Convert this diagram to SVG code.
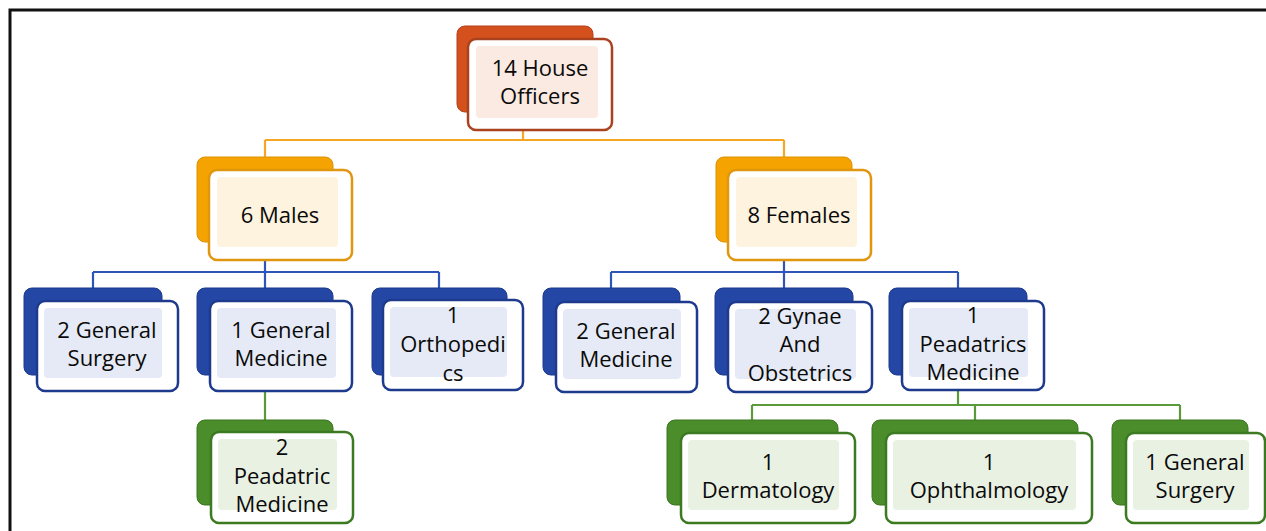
<svg xmlns="http://www.w3.org/2000/svg" width="1266" height="531" viewBox="0 0 1266 531">
<style>
.t{font-family:"Open Sans","Liberation Sans",sans-serif;font-size:22px;font-weight:500;fill:#0a0a0a;text-anchor:middle}
.front{fill:#ffffff;stroke-width:2.5}
.cn{fill:none;stroke-width:2.2}
.back{stroke-width:1}
.r .back{fill:#d4501c;stroke:#b4401a}.r .front{stroke:#a9421f}.r .in{fill:#fbeae2}
.o .back{fill:#f5a300;stroke:#dc9200}.o .front{stroke:#e0960e}.o .in{fill:#fdf3de}
.b .back{fill:#2447a6;stroke:#1c388a}.b .front{stroke:#1d3a8c}.b .in{fill:#e5eaf6}
.g .back{fill:#4b8c2b;stroke:#3b7520}.g .front{stroke:#3c7a22}.g .in{fill:#e9f1e3}
</style>
<rect x="10" y="10" width="1300" height="600" fill="none" stroke="#111" stroke-width="3"/>
<g id="connectors">
<path class="cn" stroke="#f5a623" d="M523 130V140M265 140H784M265 140V157M784 140V157"/>
<path class="cn" stroke="#2e55b8" d="M265 260V272M93 272H439M93 272V288M265 272V288M439 272V288M784 260V272M611 272H958M611 272V288M784 272V288M958 272V288"/>
<path class="cn" stroke="#5a9a3a" d="M265 391V420M958 390V405M752 405H1180M752 405V420M975 405V420M1180 405V420"/>
</g>
<g id="n-house" class="r">
<rect class="back" x="457" y="26" width="136" height="86" rx="8"/>
<rect class="front" x="468" y="39" width="144" height="91" rx="8"/>
<rect class="in" x="476" y="46" width="122" height="72" rx="4"/>
<text class="t" x="540" y="76">14 House</text><text class="t" x="540" y="104">Officers</text>
</g>
<g id="n-males" class="o">
<rect class="back" x="197" y="157" width="136" height="85" rx="8"/>
<rect class="front" x="209" y="170" width="143" height="90" rx="8"/>
<rect class="in" x="217" y="177" width="121" height="70" rx="4"/>
<text class="t" x="280" y="223">6 Males</text>
</g>
<g id="n-females" class="o">
<rect class="back" x="716" y="157" width="136" height="85" rx="8"/>
<rect class="front" x="728" y="170" width="143" height="90" rx="8"/>
<rect class="in" x="736" y="177" width="121" height="70" rx="4"/>
<text class="t" x="799" y="223">8 Females</text>
</g>
<g id="n-gsurg" class="b">
<rect class="back" x="24" y="288" width="138" height="87" rx="8"/>
<rect class="front" x="37" y="301" width="141" height="90" rx="8"/>
<rect class="in" x="44" y="308" width="118" height="70" rx="4"/>
<text class="t" x="107" y="338">2 General</text><text class="t" x="107" y="366">Surgery</text>
</g>
<g id="n-gmed1" class="b">
<rect class="back" x="197" y="288" width="136" height="87" rx="8"/>
<rect class="front" x="210" y="301" width="142" height="90" rx="8"/>
<rect class="in" x="217" y="308" width="119" height="70" rx="4"/>
<text class="t" x="281" y="338">1 General</text><text class="t" x="281" y="366">Medicine</text>
</g>
<g id="n-ortho" class="b">
<rect class="back" x="372" y="288" width="135" height="87" rx="8"/>
<rect class="front" x="383" y="300" width="140" height="90" rx="8"/>
<rect class="in" x="390" y="307" width="117" height="70" rx="4"/>
<text class="t" x="453" y="323">1</text><text class="t" x="453" y="352">Orthopedi</text><text class="t" x="453" y="381">cs</text>
</g>
<g id="n-gmed2" class="b">
<rect class="back" x="543" y="288" width="137" height="87" rx="8"/>
<rect class="front" x="556" y="302" width="141" height="90" rx="8"/>
<rect class="in" x="563" y="309" width="118" height="70" rx="4"/>
<text class="t" x="626" y="339">2 General</text><text class="t" x="626" y="367">Medicine</text>
</g>
<g id="n-gynae" class="b">
<rect class="back" x="715" y="288" width="138" height="87" rx="8"/>
<rect class="front" x="728" y="302" width="144" height="90" rx="8"/>
<rect class="in" x="735" y="309" width="121" height="70" rx="4"/>
<text class="t" x="800" y="324">2 Gynae</text><text class="t" x="800" y="352">And</text><text class="t" x="800" y="381">Obstetrics</text>
</g>
<g id="n-paeds" class="b">
<rect class="back" x="889" y="288" width="138" height="87" rx="8"/>
<rect class="front" x="902" y="301" width="142" height="89" rx="8"/>
<rect class="in" x="909" y="308" width="119" height="69" rx="4"/>
<text class="t" x="973" y="323">1</text><text class="t" x="973" y="352">Peadatrics</text><text class="t" x="973" y="380">Medicine</text>
</g>
<g id="n-paedmed" class="g">
<rect class="back" x="197" y="420" width="136" height="85" rx="8"/>
<rect class="front" x="211" y="432" width="142" height="91" rx="8"/>
<rect class="in" x="218" y="439" width="119" height="71" rx="4"/>
<text class="t" x="282" y="455">2</text><text class="t" x="282" y="484">Peadatric</text><text class="t" x="282" y="512">Medicine</text>
</g>
<g id="n-derm" class="g">
<rect class="back" x="667" y="420" width="171" height="85" rx="8"/>
<rect class="front" x="681" y="433" width="174" height="90" rx="8"/>
<rect class="in" x="688" y="440" width="151" height="70" rx="4"/>
<text class="t" x="768" y="470">1</text><text class="t" x="768" y="498">Dermatology</text>
</g>
<g id="n-ophth" class="g">
<rect class="back" x="872" y="420" width="206" height="85" rx="8"/>
<rect class="front" x="886" y="433" width="206" height="90" rx="8"/>
<rect class="in" x="893" y="440" width="183" height="70" rx="4"/>
<text class="t" x="989" y="470">1</text><text class="t" x="989" y="498">Ophthalmology</text>
</g>
<g id="n-gsurg2" class="g">
<rect class="back" x="1112" y="420" width="136" height="85" rx="8"/>
<rect class="front" x="1126" y="433" width="139" height="90" rx="8"/>
<rect class="in" x="1133" y="440" width="116" height="70" rx="4"/>
<text class="t" x="1195" y="470">1 General</text><text class="t" x="1195" y="498">Surgery</text>
</g>
</svg>
